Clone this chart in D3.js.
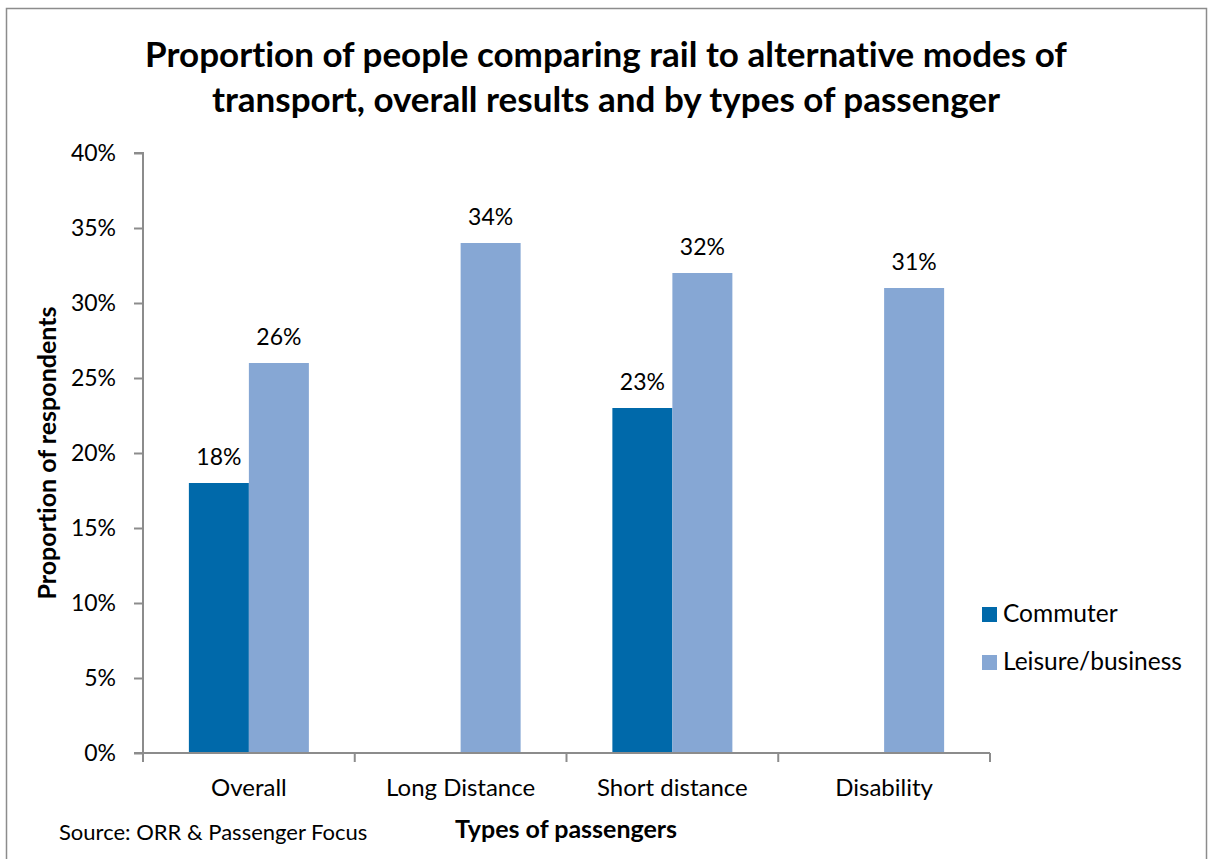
<!DOCTYPE html>
<html><head><meta charset="utf-8">
<script src="https://cdn.jsdelivr.net/npm/d3@7"></script>
<style>body{margin:0;background:#fff;}svg{display:block;font-family:Lato,"Open Sans",sans-serif;font-variant-ligatures:none;}text{font-variant-ligatures:none;}</style>
</head><body><svg id="c" width="1208" height="859"></svg>
<script>
const categories = ["Overall", "Long Distance", "Short distance", "Disability"];
const seriesNames = ["Commuter", "Leisure/business"];
const commuter = [18, null, 23, null];
const leisure = [26, 34, 32, 31];
const yTicks = [0, 5, 10, 15, 20, 25, 30, 35, 40];
const colors = ["#0069AA", "#86A7D4"];

(function(){
const svg = d3.select("#c");
svg.append("rect").attr("x",6.5).attr("y",8.5).attr("width",1200).attr("height",860)
  .attr("fill","#fff").attr("stroke","#8c8c8c").attr("stroke-width",1.5);

const pL=143, pR=990, pT=153, pB=753;
const x = d3.scaleBand().domain(categories).range([pL,pR]).paddingInner(0).paddingOuter(0);
const y = d3.scaleLinear().domain([0,40]).range([pB,pT]);
const xs = d3.scaleBand().domain(seriesNames).range([0,120]);
const barOffset = (x.bandwidth()-120)/2;
const FF = "Lato,'Open Sans',sans-serif";

// title
svg.append("text").attr("x",606).attr("y",67).attr("text-anchor","middle")
  .attr("font-size",35).attr("font-weight","bold").text("Proportion of people comparing rail to alternative modes of");
svg.append("text").attr("x",606).attr("y",112).attr("text-anchor","middle")
  .attr("font-size",35).attr("font-weight","bold").text("transport, overall results and by types of passenger");

// y axis
const ya = svg.append("g").attr("transform",`translate(${pL},0)`)
  .call(d3.axisLeft(y).tickValues(yTicks).tickFormat(d=>d+"%").tickSize(9).tickPadding(18));
ya.select(".domain").attr("stroke","#8c8c8c").attr("stroke-width",2).attr("d",`M-9,${pT}H0V${pB}`);
ya.selectAll(".tick line").attr("stroke","#8c8c8c").attr("stroke-width",2);
ya.selectAll("text").attr("font-size",23).attr("fill","#000").attr("font-family",FF);

// bars
const data = [];
categories.forEach((c,i)=>{
  [commuter[i], leisure[i]].forEach((v,j)=>{ if(v!=null) data.push({c, s:seriesNames[j], v, j}); });
});
svg.append("g").selectAll("rect").data(data).join("rect")
  .attr("x",d=>x(d.c)+barOffset+xs(d.s)).attr("width",xs.bandwidth())
  .attr("y",d=>y(d.v)).attr("height",d=>y(0)-y(d.v)).attr("fill",d=>colors[d.j]);
svg.append("g").selectAll("text").data(data).join("text")
  .attr("x",d=>x(d.c)+barOffset+xs(d.s)+xs.bandwidth()/2).attr("y",d=>y(d.v)-18)
  .attr("text-anchor","middle").attr("font-size",23).text(d=>d.v+"%");

// x axis
const xa = svg.append("g").attr("transform",`translate(0,${pB})`)
  .call(d3.axisBottom(x).tickSize(0));
xa.select(".domain").attr("stroke","#8c8c8c").attr("stroke-width",2).attr("d",`M${pL-9},0H${pR}`);
xa.selectAll("text").attr("font-size",24).attr("fill","#000").attr("font-family",FF).attr("y",43).attr("dy",0);
const bounds = categories.map(c=>x(c)).concat([x(categories[categories.length-1])+x.bandwidth()]);
svg.append("g").selectAll("line").data(bounds).join("line")
  .attr("x1",d=>d).attr("x2",d=>d).attr("y1",pB).attr("y2",pB+9)
  .attr("stroke","#8c8c8c").attr("stroke-width",2);

// axis titles
svg.append("text").attr("transform","translate(56,453) rotate(-90)").attr("text-anchor","middle")
  .attr("font-size",25).attr("font-weight","bold").text("Proportion of respondents");
svg.append("text").attr("x",566).attr("y",838).attr("text-anchor","middle")
  .attr("font-size",25).attr("font-weight","bold").text("Types of passengers");
svg.append("text").attr("x",59).attr("y",840).attr("font-size",22).text("Source: ORR & Passenger Focus");

// legend
const lg = svg.append("g");
seriesNames.forEach((s,i)=>{
  lg.append("rect").attr("x",982).attr("y",607+i*48).attr("width",15).attr("height",15).attr("fill",colors[i]);
  lg.append("text").attr("x",1003).attr("y",622+i*48).attr("font-size",24.5).text(s);
});
})();
</script></body></html>
